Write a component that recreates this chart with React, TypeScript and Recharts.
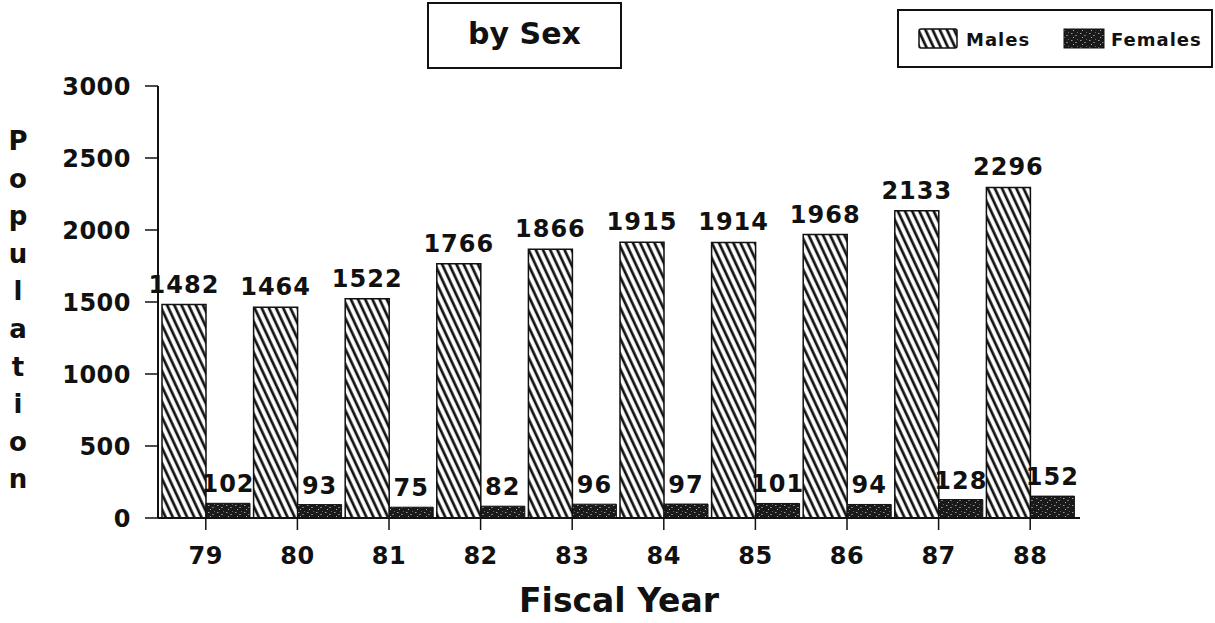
import { BarChart, Bar, XAxis, YAxis, LabelList } from 'recharts';

const years = ['79', '80', '81', '82', '83', '84', '85', '86', '87', '88'];
const males = [1482, 1464, 1522, 1766, 1866, 1915, 1914, 1968, 2133, 2296];
const females = [102, 93, 75, 82, 96, 97, 101, 94, 128, 152];
const yTicks = [0, 500, 1000, 1500, 2000, 2500, 3000];
const seriesNames = ['Males', 'Females'];
const title = 'by Sex';
const xTitle = 'Fiscal Year';
const yTitle = 'Population';

const data = years.map((year, i) => ({ year, males: males[i], females: females[i] }));

const FONT = '"DejaVu Sans", "Liberation Sans", sans-serif';
const INK = '#111';

const Patterns = ({ prefix }: { prefix: string }) => (
  <defs>
    <pattern
      id={`${prefix}-hatch`}
      width="6.5"
      height="10"
      patternUnits="userSpaceOnUse"
      patternTransform="rotate(-25)"
    >
      <rect width="6.5" height="10" fill="#fff" />
      <line x1="3" y1="-1" x2="3" y2="11" stroke={INK} strokeWidth="2.7" />
    </pattern>
    <pattern id={`${prefix}-speckle`} width="9" height="7" patternUnits="userSpaceOnUse">
      <rect width="9" height="7" fill="#1a1a1a" />
      <rect x="1" y="1" width="1.5" height="1" fill="#9a9a9a" />
      <rect x="5" y="3" width="2" height="1" fill="#7a7a7a" />
      <rect x="3" y="5" width="1" height="1" fill="#b0b0b0" />
      <rect x="7" y="0" width="1" height="1" fill="#666" />
    </pattern>
  </defs>
);

const YLabel = (props: any) => {
  const vb = props.viewBox || { y: 86 };
  const letters = yTitle.split('');
  return (
    <text
      x={18}
      y={vb.y + 64}
      textAnchor="middle"
      fontFamily={FONT}
      fontWeight="bold"
      fontSize={26}
      fill={INK}
    >
      {letters.map((ch, i) => (
        <tspan key={i} x={18} dy={i === 0 ? 0 : 37.6}>
          {ch}
        </tspan>
      ))}
    </text>
  );
};

const XLabel = (props: any) => {
  const vb = props.viewBox || { x: 158, width: 922 };
  return (
    <text
      x={vb.x + vb.width / 2}
      y={612}
      textAnchor="middle"
      fontFamily={FONT}
      fontWeight="bold"
      fontSize={33}
      fill={INK}
    >
      {xTitle}
    </text>
  );
};

const labelStyle = { fontFamily: FONT, fontWeight: 'bold', fontSize: 24, letterSpacing: 1, fill: INK };
const tickStyle = { fontFamily: FONT, fontWeight: 'bold', fontSize: 24, letterSpacing: 0.5, fill: INK };

const App = () => {
  return (
    <div style={{ position: 'absolute', left: 0, top: 0, width: 1215, height: 623, background: '#fff' }}>
      <BarChart
        width={1215}
        height={623}
        data={data}
        margin={{ top: 86, right: 135, bottom: 45, left: 0 }}
        barCategoryGap={2}
        barGap={0}
      >
        <Patterns prefix="c" />
        <XAxis
          dataKey="year"
          height={60}
          padding={{ left: 2, right: 4 }}
          tickSize={12}
          tickMargin={17}
          axisLine={{ stroke: INK, strokeWidth: 2 }}
          tickLine={{ stroke: INK, strokeWidth: 1.5 }}
          tick={tickStyle}
          label={{ content: <XLabel /> }}
        />
        <YAxis
          width={158}
          domain={[0, 3000]}
          ticks={yTicks}
          interval={0}
          tickSize={13}
          tickMargin={14}
          axisLine={{ stroke: INK, strokeWidth: 2 }}
          tickLine={{ stroke: INK, strokeWidth: 1.5 }}
          tick={tickStyle}
          label={{ content: <YLabel /> }}
        />
        <Bar
          dataKey="males"
          name={seriesNames[0]}
          fill="url(#c-hatch)"
          stroke={INK}
          strokeWidth={1.5}
          isAnimationActive={false}
        >
          <LabelList dataKey="males" position="top" offset={12} style={labelStyle} />
        </Bar>
        <Bar
          dataKey="females"
          name={seriesNames[1]}
          fill="url(#c-speckle)"
          stroke={INK}
          strokeWidth={1}
          isAnimationActive={false}
        >
          <LabelList dataKey="females" position="top" offset={11} style={labelStyle} />
        </Bar>
      </BarChart>

      <div
        style={{
          position: 'absolute',
          left: 427,
          top: 2,
          width: 191,
          height: 59,
          border: `2px solid ${INK}`,
          display: 'flex',
          alignItems: 'center',
          justifyContent: 'center',
          fontFamily: FONT,
          fontWeight: 'bold',
          fontSize: 30,
          color: INK,
          paddingBottom: 4,
        }}
      >
        {title}
      </div>

      <div
        style={{
          position: 'absolute',
          left: 897,
          top: 9,
          width: 312,
          height: 55,
          border: `2px solid ${INK}`,
        }}
      >
        <svg width={312} height={55} style={{ position: 'absolute', left: 0, top: 0 }}>
          <Patterns prefix="lg" />
          <rect x={20} y={18} width={38} height={19} rx={2} fill="url(#lg-hatch)" stroke={INK} strokeWidth={1.5} />
          <text x={67} y={35} fontFamily={FONT} fontWeight="bold" fontSize={18} letterSpacing={1} fill={INK}>
            {seriesNames[0]}
          </text>
          <rect x={165} y={18} width={40} height={19} fill="url(#lg-speckle)" stroke={INK} strokeWidth={1} />
          <text x={212} y={35} fontFamily={FONT} fontWeight="bold" fontSize={18} letterSpacing={1} fill={INK}>
            {seriesNames[1]}
          </text>
        </svg>
      </div>
    </div>
  );
};

export default App;
